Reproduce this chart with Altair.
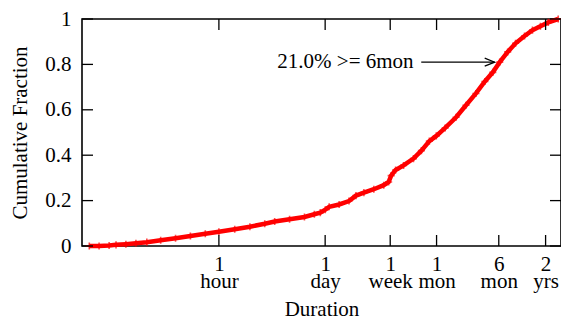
import altair as alt
import pandas as pd

# ---- data (duration in seconds, cumulative fraction)
dur_s = [74.6, 100, 135, 166, 223, 301, 417, 631, 984, 1535, 2397, 3600, 5780, 9100,
         14190, 19100, 29800, 46500, 62500, 74700, 86700, 97500, 131200, 176300,
         217300, 275400, 370400, 498000, 577000, 622000, 711000, 901000, 1.213e6,
         1.537e6, 1.95e6, 2.40e6, 3.13e6, 4.34e6, 5.83e6, 7.85e6, 1.026e7, 1.30e7,
         1.60e7, 2.03e7, 2.57e7, 3.36e7, 4.26e7, 5.40e7, 6.84e7, 9.2e7]
cdf = [0.0, 0.0, 0.002, 0.005, 0.008, 0.012, 0.017, 0.025, 0.034, 0.044, 0.054, 0.063,
       0.074, 0.085, 0.098, 0.108, 0.118, 0.128, 0.140, 0.147, 0.160, 0.173, 0.183,
       0.198, 0.222, 0.235, 0.250, 0.268, 0.282, 0.310, 0.335, 0.355, 0.385, 0.420,
       0.462, 0.485, 0.520, 0.567, 0.620, 0.672, 0.725, 0.765, 0.810, 0.855, 0.893,
       0.925, 0.951, 0.968, 0.985, 1.0]

x_tick_vals = [3600, 86400, 604800, 2419200, 15552000, 63072000]
x_tick_top = ["1", "1", "1", "1", "6", "2"]
x_tick_bot = ["hour", "day", "week", "mon", "mon", "yrs"]
y_tick_vals = [0, 0.2, 0.4, 0.6, 0.8, 1.0]

ann_text = "21.0% >= 6mon"
ann_y = 0.81
ann_text_right = 1.217e6
ann_arrow_from = 1.53e6
ann_arrow_to = 1.377e7

W, H = 479, 227
FONT = "Liberation Serif"
FS = 21
TICK = 11

curve = pd.DataFrame({"dur": dur_s, "cdf": cdf})
xs = alt.Scale(type="log", domain=[60, 1e8], nice=False)
ys = alt.Scale(domain=[0, 1], nice=False)

vals_js = "[" + ",".join(str(v) for v in x_tick_vals) + "]"
labs_js = "[" + ",".join("['%s','%s']" % (a, b) for a, b in zip(x_tick_top, x_tick_bot)) + "]"
label_expr = labs_js + "[indexof(" + vals_js + ", datum.value)]"

X_AX = alt.Axis(values=x_tick_vals, labelExpr=label_expr, title="Duration",
                ticks=False, domain=False, grid=False, labelPadding=7,
                labelLineHeight=17, titlePadding=7, labelFlush=False,
                labelOverlap=False)
Y_AX = alt.Axis(values=y_tick_vals, format="~g", title="Cumulative Fraction",
                ticks=False, domain=False, grid=False, labelPadding=11,
                titlePadding=14)


def X(f):
    return alt.X(f, scale=xs, axis=X_AX)


def Y(f):
    return alt.Y(f, scale=ys, axis=Y_AX)


line = alt.Chart(curve).mark_line(color="#ff0000", strokeWidth=4.5).encode(
    x=X("dur:Q"), y=Y("cdf:Q"))
pts = alt.Chart(curve).mark_point(shape="M-1,0L1,0M0,-1L0,1", filled=False,
                                  stroke="#ff0000", strokeWidth=1.6, size=50).encode(
    x=X("dur:Q"), y=Y("cdf:Q"))

ydf = pd.DataFrame({"v": y_tick_vals})
xdf = pd.DataFrame({"v": x_tick_vals})
tick_style = dict(color="black", strokeWidth=1.3)
lt = alt.Chart(ydf).mark_rule(**tick_style).encode(
    y=Y("v:Q"), x=alt.value(0), x2=alt.value(TICK))
rt = alt.Chart(ydf).mark_rule(**tick_style).encode(
    y=Y("v:Q"), x=alt.value(W), x2=alt.value(W - TICK))
bt = alt.Chart(xdf).mark_rule(**tick_style).encode(
    x=X("v:Q"), y=alt.value(H), y2=alt.value(H - TICK))
tt = alt.Chart(xdf).mark_rule(**tick_style).encode(
    x=X("v:Q"), y=alt.value(0), y2=alt.value(TICK))

ann = pd.DataFrame({"t": [ann_text], "xt": [ann_text_right], "x0": [ann_arrow_from],
                    "x1": [ann_arrow_to], "y": [ann_y]})
txt = alt.Chart(ann).mark_text(align="right", baseline="middle", font=FONT, fontSize=FS,
                               color="black").encode(
    x=X("xt:Q"), y=Y("y:Q"), text="t:N")
arr = alt.Chart(ann).mark_rule(color="black", strokeWidth=1.2).encode(
    x=X("x0:Q"), x2="x1:Q", y=Y("y:Q"))
head = alt.Chart(ann).mark_point(shape="M-1,-0.4L0,0L-1,0.4", filled=False,
                                 stroke="black", strokeWidth=1.2, size=400, opacity=1).encode(
    x=X("x1:Q"), y=Y("y:Q"))

chart = alt.layer(line, pts, lt, rt, bt, tt, txt, arr, head).properties(
    width=W, height=H,
    autosize=alt.AutoSizeParams(type="none"),
    padding={"left": 74, "top": 11, "right": 0, "bottom": 74},
).configure_view(stroke="black", strokeWidth=1.6).configure_axis(
    labelFont=FONT, labelFontSize=FS, labelColor="black",
    titleFont=FONT, titleFontSize=FS, titleColor="black", titleFontWeight="normal",
)

chart.save("out.html", embed_options={"renderer": "svg", "actions": False})
